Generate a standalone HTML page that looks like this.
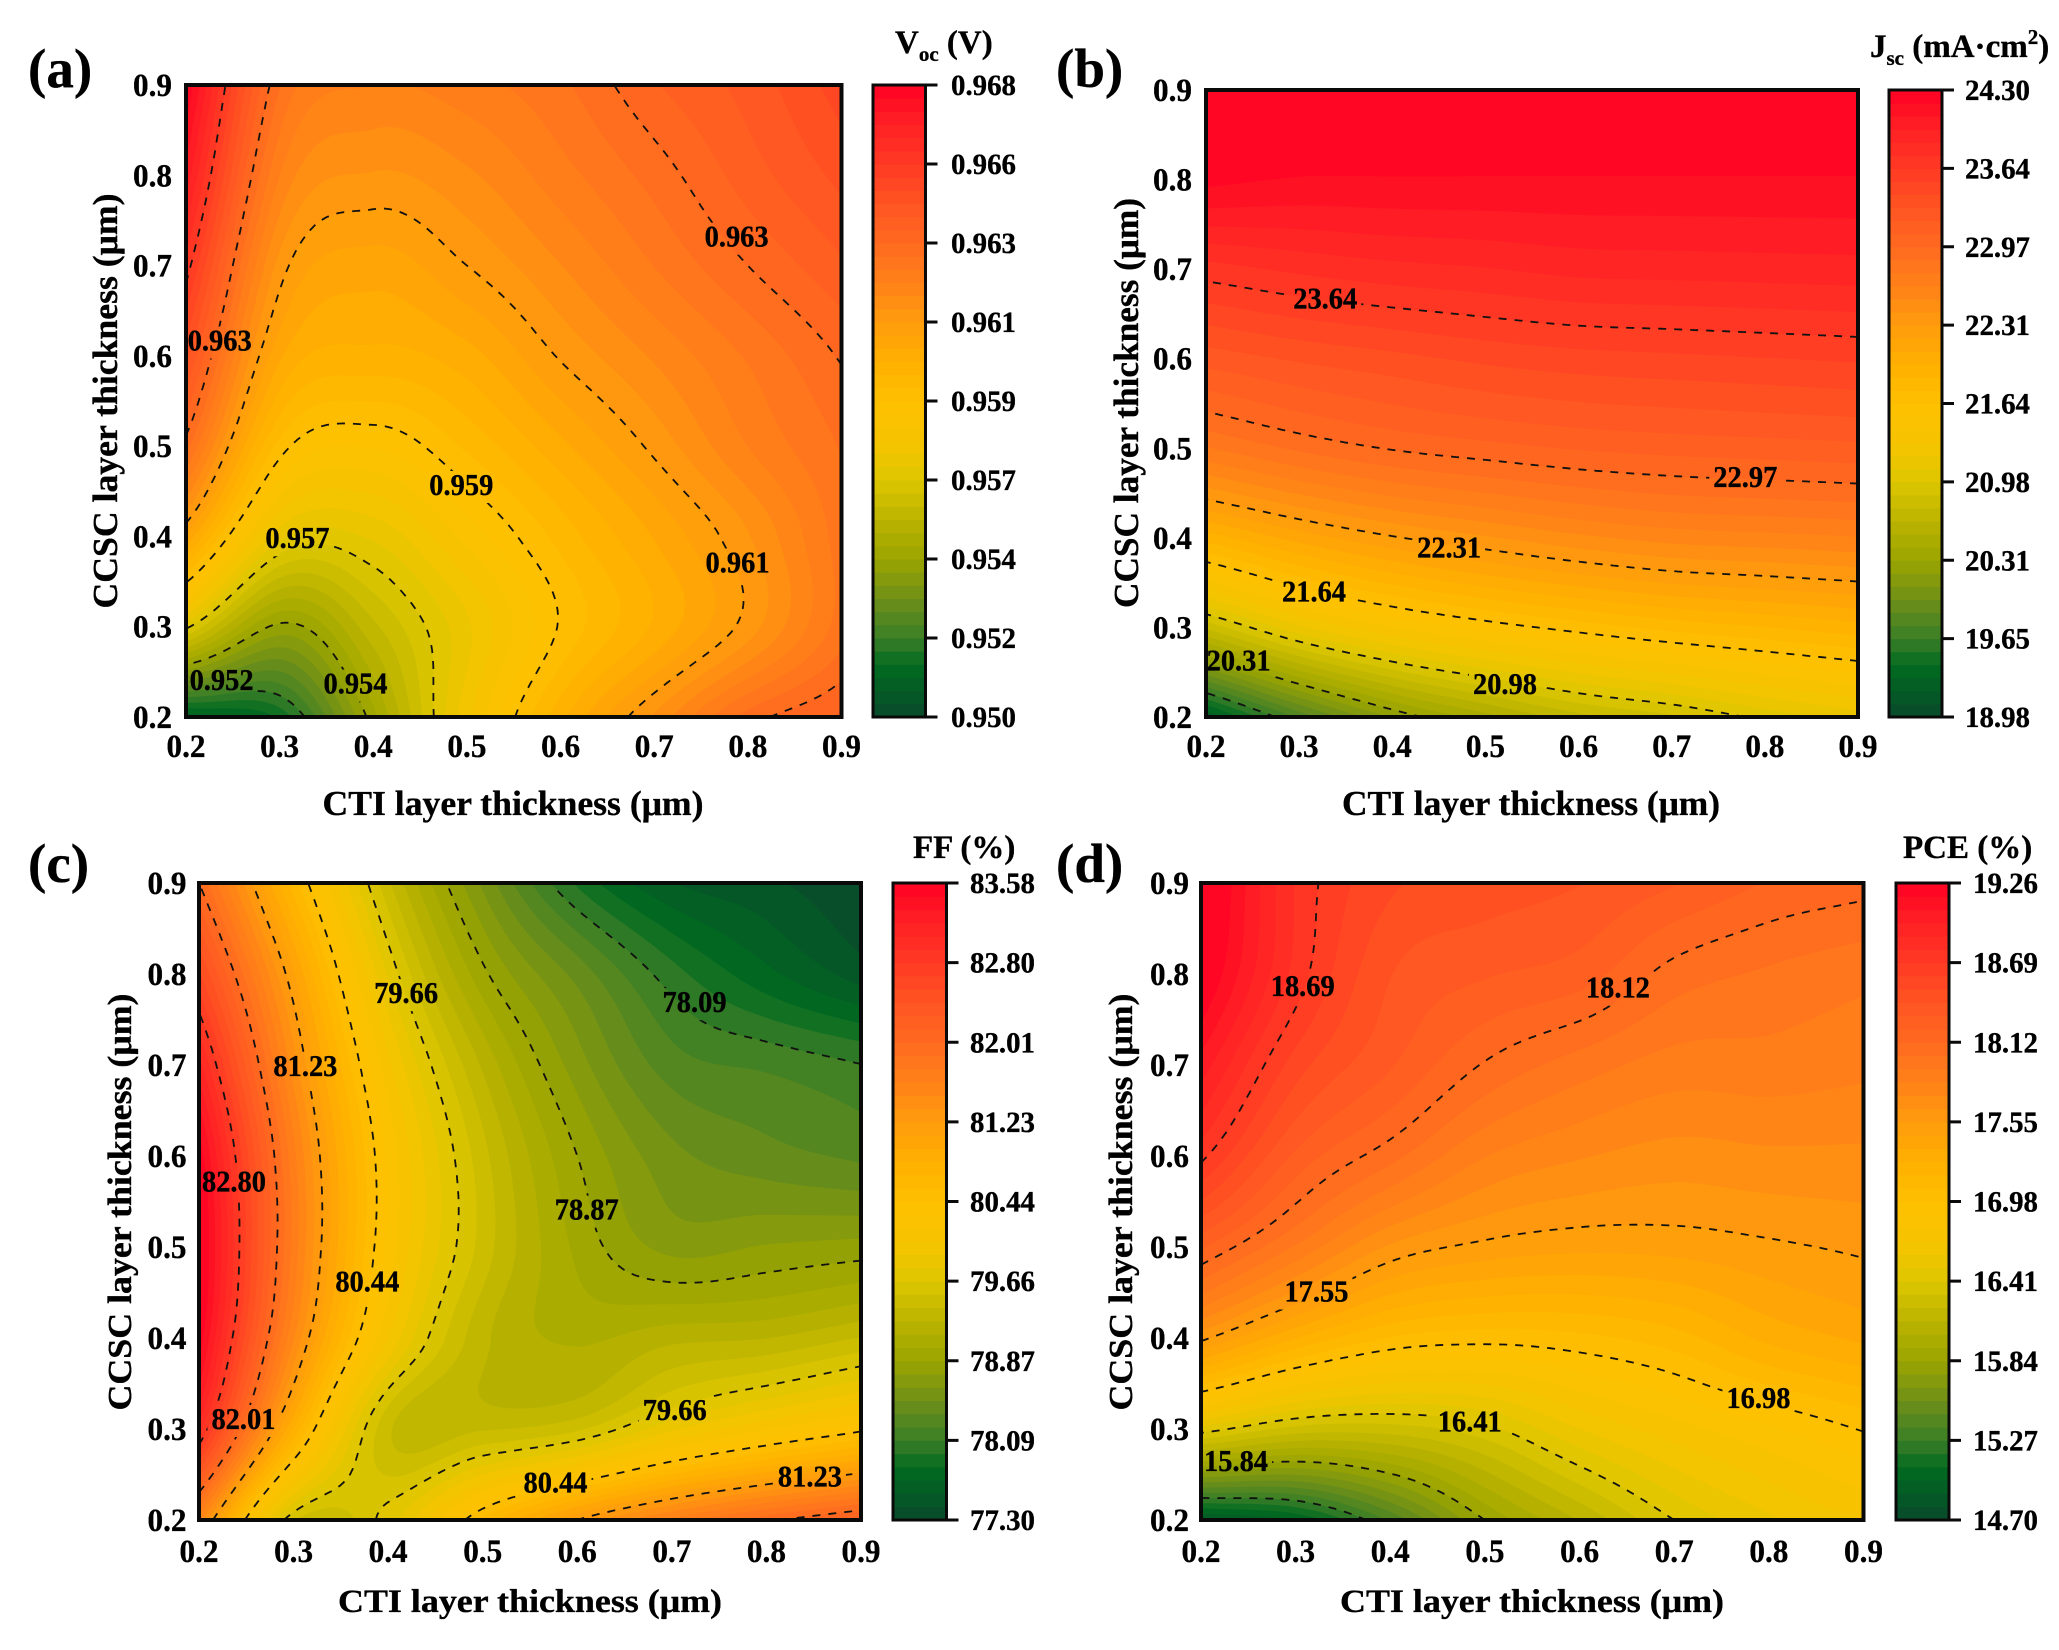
<!DOCTYPE html>
<html lang="en">
<head>
<meta charset="utf-8">
<title>Contour maps of Voc, Jsc, FF and PCE versus CTI and CCSC layer thickness</title>
<style>
html,body{margin:0;padding:0;background:#fff;}
svg{display:block;}
text{font-family:"Liberation Serif","Times New Roman",serif;font-weight:bold;fill:#000;stroke:#000;stroke-width:0.35px;}
</style>
</head>
<body>
<svg id="figure" xmlns="http://www.w3.org/2000/svg" width="2059" height="1650" viewBox="0 0 2059 1650">
  <rect x="0" y="0" width="2059" height="1650" fill="#fff"/>

  <text x="28" y="87" font-size="55">(a)</text>
  <text x="1056" y="87" font-size="55">(b)</text>
  <text x="28" y="882" font-size="55">(c)</text>
  <text x="1056" y="882" font-size="55">(d)</text>

  <text x="513" y="815" font-size="35" text-anchor="middle" textLength="381" lengthAdjust="spacingAndGlyphs">CTI layer thickness (μm)</text>
  <text x="1531" y="815" font-size="35" text-anchor="middle" textLength="378" lengthAdjust="spacingAndGlyphs">CTI layer thickness (μm)</text>
  <text x="530" y="1612" font-size="33" text-anchor="middle" textLength="384" lengthAdjust="spacingAndGlyphs">CTI layer thickness (μm)</text>
  <text x="1532" y="1612" font-size="33" text-anchor="middle" textLength="384" lengthAdjust="spacingAndGlyphs">CTI layer thickness (μm)</text>

  <text transform="translate(117 401) rotate(-90)" font-size="35" text-anchor="middle" textLength="415" lengthAdjust="spacingAndGlyphs">CCSC layer thickness (μm)</text>
  <text transform="translate(1138 403) rotate(-90)" font-size="35" text-anchor="middle" textLength="410" lengthAdjust="spacingAndGlyphs">CCSC layer thickness (μm)</text>
  <text transform="translate(131 1202) rotate(-90)" font-size="34" text-anchor="middle" textLength="417" lengthAdjust="spacingAndGlyphs">CCSC layer thickness (μm)</text>
  <text transform="translate(1132 1202) rotate(-90)" font-size="34" text-anchor="middle" textLength="417" lengthAdjust="spacingAndGlyphs">CCSC layer thickness (μm)</text>

  <text x="895" y="53" font-size="33">V<tspan font-size="21" dy="8">oc</tspan><tspan dy="-8"> (V)</tspan></text>
  <text x="1870" y="57" font-size="33">J<tspan font-size="21" dy="8">sc</tspan><tspan dy="-8"> (mA·cm</tspan><tspan font-size="21" dy="-13">2</tspan><tspan dy="13">)</tspan></text>
  <text x="913" y="858" font-size="33">FF (%)</text>
  <text x="1903" y="858" font-size="33">PCE (%)</text>
</svg>

<script>
// Shared axis values (CTI on x, CCSC on y, micrometres)
const ctiThickness = [0.2, 0.3, 0.4, 0.5, 0.6, 0.7, 0.8, 0.9];
const ccscThickness = [0.2, 0.3, 0.4, 0.5, 0.6, 0.7, 0.8, 0.9];
const thicknessTickLabels = ['0.2', '0.3', '0.4', '0.5', '0.6', '0.7', '0.8', '0.9'];

// Grids: one row per CCSC thickness (0.2 first), one column per CTI thickness
const vocGrid = [
  [0.95090, 0.95158, 0.95473, 0.95776, 0.96001, 0.96170, 0.96328, 0.96395],
  [0.95686, 0.95439, 0.95590, 0.95743, 0.95905, 0.96019, 0.96143, 0.96294],
  [0.96080, 0.95725, 0.95720, 0.95837, 0.95952, 0.96053, 0.96159, 0.96294],
  [0.96328, 0.95923, 0.95866, 0.95945, 0.96040, 0.96136, 0.96238, 0.96316],
  [0.96474, 0.96058, 0.96001, 0.96035, 0.96130, 0.96206, 0.96280, 0.96355],
  [0.96598, 0.96148, 0.96069, 0.96125, 0.96199, 0.96276, 0.96350, 0.96418],
  [0.96710, 0.96238, 0.96159, 0.96193, 0.96260, 0.96328, 0.96406, 0.96474],
  [0.96800, 0.96316, 0.96238, 0.96260, 0.96305, 0.96384, 0.96440, 0.96519]
];
const jscGrid = [
  [19.21, 19.78, 20.21, 20.48, 20.71, 20.84, 21.01, 21.14],
  [20.78, 21.17, 21.41, 21.57, 21.69, 21.79, 21.86, 21.93],
  [21.91, 22.13, 22.29, 22.40, 22.50, 22.57, 22.60, 22.63],
  [22.74, 22.88, 22.98, 23.04, 23.09, 23.12, 23.14, 23.16],
  [23.24, 23.32, 23.38, 23.44, 23.48, 23.50, 23.52, 23.54],
  [23.70, 23.77, 23.82, 23.85, 23.89, 23.90, 23.91, 23.92],
  [24.22, 24.18, 24.18, 24.18, 24.18, 24.18, 24.18, 24.18],
  [24.37, 24.37, 24.37, 24.37, 24.37, 24.37, 24.37, 24.37]
];
const ffGrid = [
  [81.54, 79.54, 79.73, 80.60, 81.23, 81.66, 81.97, 82.21],
  [82.99, 80.83, 79.42, 79.38, 79.50, 79.89, 80.17, 80.40],
  [83.54, 81.50, 80.05, 79.30, 79.11, 79.22, 79.26, 79.40],
  [83.66, 81.70, 80.27, 79.47, 78.97, 78.70, 78.75, 78.79],
  [83.54, 81.66, 80.28, 79.44, 78.87, 78.52, 78.40, 78.32],
  [83.11, 81.42, 80.09, 79.24, 78.67, 78.28, 78.19, 78.09],
  [82.56, 81.11, 79.77, 78.91, 78.43, 78.01, 77.73, 77.50],
  [82.01, 80.64, 79.42, 78.58, 77.93, 77.57, 77.46, 77.30]
];
const pceGrid = [
  [14.87, 14.99, 15.38, 15.84, 16.13, 16.41, 16.58, 16.70],
  [16.47, 16.28, 16.27, 16.38, 16.60, 16.75, 16.87, 16.99],
  [17.58, 17.27, 17.07, 17.02, 17.05, 17.13, 17.29, 17.38],
  [18.23, 17.92, 17.63, 17.52, 17.48, 17.49, 17.53, 17.57],
  [18.72, 18.29, 18.06, 17.84, 17.75, 17.70, 17.72, 17.72],
  [19.03, 18.55, 18.32, 18.11, 17.98, 17.89, 17.89, 17.86],
  [19.29, 18.75, 18.41, 18.32, 18.26, 18.08, 18.01, 17.96],
  [19.37, 18.78, 18.52, 18.46, 18.41, 18.32, 18.21, 18.16]
];

// Colour-bar tick labels, bottom to top (also the contour levels)
const vocTicks = ['0.950', '0.952', '0.954', '0.957', '0.959', '0.961', '0.963', '0.966', '0.968'];
const jscTicks = ['18.98', '19.65', '20.31', '20.98', '21.64', '22.31', '22.97', '23.64', '24.30'];
const ffTicks = ['77.30', '78.09', '78.87', '79.66', '80.44', '81.23', '82.01', '82.80', '83.58'];
const pceTicks = ['14.70', '15.27', '15.84', '16.41', '16.98', '17.55', '18.12', '18.69', '19.26'];

// Contour labels: printed text plus where they sit in data coordinates
const vocLabels = ['0.963', '0.963', '0.959', '0.957', '0.961', '0.952', '0.954'];
const vocLabelCti = [0.788, 0.236, 0.494, 0.319, 0.789, 0.238, 0.381];
const vocLabelCcsc = [0.732, 0.617, 0.457, 0.398, 0.371, 0.241, 0.237];
const jscLabels = ['23.64', '22.97', '22.31', '21.64', '20.31', '20.98'];
const jscLabelCti = [0.328, 0.779, 0.461, 0.316, 0.235, 0.521];
const jscLabelCcsc = [0.667, 0.468, 0.389, 0.340, 0.263, 0.237];
const ffLabels = ['79.66', '78.09', '81.23', '82.80', '78.87', '80.44', '82.01', '79.66', '80.44', '81.23'];
const ffLabelCti = [0.419, 0.724, 0.3125, 0.237, 0.610, 0.378, 0.247, 0.703, 0.577, 0.846];
const ffLabelCcsc = [0.779, 0.769, 0.699, 0.572, 0.541, 0.462, 0.311, 0.321, 0.241, 0.248];
const pceLabels = ['18.69', '18.12', '17.55', '16.98', '16.41', '15.84'];
const pceLabelCti = [0.3075, 0.6405, 0.322, 0.789, 0.484, 0.237];
const pceLabelCcsc = [0.787, 0.785, 0.451, 0.334, 0.308, 0.265];

// Colormap stops: position along the bar and its colour
const colorStopPositions = [0, 0.08, 0.125, 0.1875, 0.25, 0.3125, 0.375, 0.43, 0.5, 0.5625, 0.625, 0.6875, 0.75, 0.8125, 0.875, 0.94, 1];
const colorStopValues = ['#0a4a2c', '#006a20', '#3a7e28', '#6f9018', '#9aa400', '#bcb400', '#dcc600', '#f4c400', '#fec000', '#ffb000', '#ff9c0c', '#ff8218', '#ff6a20', '#ff5422', '#ff3a24', '#ff2024', '#ff0025'];

const SVG_NS = 'http://www.w3.org/2000/svg';
const BAND_COUNT = 48;
const SAMPLES = 112;
const figure = document.getElementById('figure');

function make(tag, parent, attrs) {
  const el = document.createElementNS(SVG_NS, tag);
  for (const k in attrs) el.setAttribute(k, attrs[k]);
  parent.appendChild(el);
  return el;
}

function hexToRgb(h) {
  return [parseInt(h.substr(1, 2), 16), parseInt(h.substr(3, 2), 16), parseInt(h.substr(5, 2), 16)];
}

function colorAt(t) {
  t = Math.max(0, Math.min(1, t));
  let i = 0;
  while (i < colorStopPositions.length - 2 && t > colorStopPositions[i + 1]) i++;
  const f = (t - colorStopPositions[i]) / (colorStopPositions[i + 1] - colorStopPositions[i]);
  const a = hexToRgb(colorStopValues[i]);
  const b = hexToRgb(colorStopValues[i + 1]);
  return 'rgb(' + Math.round(a[0] + (b[0] - a[0]) * f) + ',' + Math.round(a[1] + (b[1] - a[1]) * f) + ',' + Math.round(a[2] + (b[2] - a[2]) * f) + ')';
}

function catmull(p0, p1, p2, p3, t) {
  return 0.5 * (2 * p1 + (p2 - p0) * t + (2 * p0 - 5 * p1 + 4 * p2 - p3) * t * t + (3 * p1 - p0 - 3 * p2 + p3) * t * t * t);
}

function gridValue(grid, r, c) {
  const rows = grid.length;
  const cols = grid[0].length;
  if (r < 0) return 2 * gridValue(grid, 0, c) - gridValue(grid, 1, c);
  if (r >= rows) return 2 * gridValue(grid, rows - 1, c) - gridValue(grid, rows - 2, c);
  if (c < 0) return 2 * grid[r][0] - grid[r][1];
  if (c >= cols) return 2 * grid[r][cols - 1] - grid[r][cols - 2];
  return grid[r][c];
}

function sampleSurface(grid) {
  const cols = ctiThickness.length;
  const rows = ccscThickness.length;
  const out = [];
  for (let j = 0; j <= SAMPLES; j++) {
    const v = j / SAMPLES * (rows - 1);
    const r = Math.min(Math.floor(v), rows - 2);
    const tv = v - r;
    const line = [];
    for (let i = 0; i <= SAMPLES; i++) {
      const u = i / SAMPLES * (cols - 1);
      const c = Math.min(Math.floor(u), cols - 2);
      const tu = u - c;
      const vals = [];
      for (let m = -1; m <= 2; m++) {
        vals.push(catmull(gridValue(grid, r + m, c - 1), gridValue(grid, r + m, c), gridValue(grid, r + m, c + 1), gridValue(grid, r + m, c + 2), tu));
      }
      line.push(catmull(vals[0], vals[1], vals[2], vals[3], tv));
    }
    out.push(line);
  }
  return out;
}

function bandPath(F, level, px, py) {
  const parts = [];
  for (let j = 0; j < SAMPLES; j++) {
    let run = -1;
    const y0 = py(j).toFixed(1);
    const y1 = py(j + 1).toFixed(1);
    for (let i = 0; i <= SAMPLES; i++) {
      let full = false;
      if (i < SAMPLES) {
        full = F[j][i] >= level && F[j][i + 1] >= level && F[j + 1][i + 1] >= level && F[j + 1][i] >= level;
      }
      if (full) {
        if (run < 0) run = i;
        continue;
      }
      if (run >= 0) {
        parts.push('M' + px(run).toFixed(1) + ' ' + y0 + 'H' + px(i).toFixed(1) + 'V' + y1 + 'H' + px(run).toFixed(1) + 'Z');
        run = -1;
      }
      if (i === SAMPLES) break;
      const cx = [i, i + 1, i + 1, i];
      const cy = [j, j, j + 1, j + 1];
      const vv = [F[j][i], F[j][i + 1], F[j + 1][i + 1], F[j + 1][i]];
      const pts = [];
      for (let k = 0; k < 4; k++) {
        const n = (k + 1) % 4;
        if (vv[k] >= level) pts.push(px(cx[k]).toFixed(1) + ' ' + py(cy[k]).toFixed(1));
        if ((vv[k] >= level) !== (vv[n] >= level)) {
          const f = (level - vv[k]) / (vv[n] - vv[k]);
          pts.push(px(cx[k] + (cx[n] - cx[k]) * f).toFixed(1) + ' ' + py(cy[k] + (cy[n] - cy[k]) * f).toFixed(1));
        }
      }
      if (pts.length > 2) parts.push('M' + pts.join('L') + 'Z');
    }
  }
  return parts.join('');
}

function contourPath(F, level, px, py) {
  const nodes = new Map();
  function node(key, x, y) {
    if (!nodes.has(key)) nodes.set(key, { x: x, y: y, links: [] });
    return key;
  }
  function crossH(j, i) {
    const f = (level - F[j][i]) / (F[j][i + 1] - F[j][i]);
    return node('h' + j + '_' + i, px(i + f), py(j));
  }
  function crossV(j, i) {
    const f = (level - F[j][i]) / (F[j + 1][i] - F[j][i]);
    return node('v' + j + '_' + i, px(i), py(j + f));
  }
  function link(a, b) {
    nodes.get(a).links.push(b);
    nodes.get(b).links.push(a);
  }
  for (let j = 0; j < SAMPLES; j++) {
    for (let i = 0; i < SAMPLES; i++) {
      const a = F[j][i] >= level, b = F[j][i + 1] >= level, c = F[j + 1][i + 1] >= level, d = F[j + 1][i] >= level;
      const hits = [];
      if (a !== b) hits.push(crossH(j, i));
      if (b !== c) hits.push(crossV(j, i + 1));
      if (d !== c) hits.push(crossH(j + 1, i));
      if (a !== d) hits.push(crossV(j, i));
      if (hits.length === 2) link(hits[0], hits[1]);
      if (hits.length === 4) {
        link(hits[0], hits[3]);
        link(hits[1], hits[2]);
      }
    }
  }
  const seen = new Set();
  let path = '';
  function walk(start) {
    let cur = start;
    let prev = null;
    let d = '';
    let first = true;
    while (cur && !seen.has(cur)) {
      seen.add(cur);
      const n = nodes.get(cur);
      d += (first ? 'M' : 'L') + n.x.toFixed(1) + ' ' + n.y.toFixed(1);
      first = false;
      let next = null;
      for (const l of n.links) {
        if (l !== prev && !seen.has(l)) { next = l; break; }
      }
      prev = cur;
      cur = next;
    }
    return d;
  }
  nodes.forEach(function (n, key) {
    if (n.links.length === 1 && !seen.has(key)) path += walk(key);
  });
  nodes.forEach(function (n, key) {
    if (!seen.has(key)) path += walk(key) + 'Z';
  });
  return path;
}

function drawPanel(cfg) {
  const min = parseFloat(cfg.ticks[0]);
  const max = parseFloat(cfg.ticks[cfg.ticks.length - 1]);
  const xMin = ctiThickness[0];
  const xMax = ctiThickness[ctiThickness.length - 1];
  const yMin = ccscThickness[0];
  const yMax = ccscThickness[ccscThickness.length - 1];
  const xAxis = function (v) { return cfg.left + (v - xMin) / (xMax - xMin) * (cfg.right - cfg.left); };
  const yAxis = function (v) { return cfg.bottom - (v - yMin) / (yMax - yMin) * (cfg.bottom - cfg.top); };
  const px = function (i) { return cfg.left + (cfg.right - cfg.left) * i / SAMPLES; };
  const py = function (j) { return cfg.bottom - (cfg.bottom - cfg.top) * j / SAMPLES; };
  const F = sampleSurface(cfg.grid);

  const group = make('g', figure, {});
  
  

  // Filled contour bands
  for (let b = 0; b < BAND_COUNT; b++) {
    const level = b === 0 ? -Infinity : min + (max - min) * b / BAND_COUNT;
    const d = bandPath(F, level, px, py);
    if (!d) continue;
    const band = make('path', group, { d: d, fill: colorAt((b + 0.5) / BAND_COUNT) });
    
    
  }

  // Label gaps in the dashed lines
  const mask = make('mask', group, { id: cfg.id + '-label-gaps', maskUnits: 'userSpaceOnUse', x: cfg.left - 5, y: cfg.top - 5, width: cfg.right - cfg.left + 10, height: cfg.bottom - cfg.top + 10 });
  make('rect', mask, { x: cfg.left - 5, y: cfg.top - 5, width: cfg.right - cfg.left + 10, height: cfg.bottom - cfg.top + 10, fill: '#fff' });
  cfg.labels.forEach(function (t, i) {
    make('rect', mask, { x: xAxis(cfg.labelX[i]) - 36, y: yAxis(cfg.labelY[i]) - 14, width: 72, height: 32, fill: '#000' });
  });

  // Dashed contour lines at the inner colour-bar levels
  const lines = make('g', group, { mask: 'url(#' + cfg.id + '-label-gaps)' });
  for (let k = 1; k < cfg.ticks.length - 1; k++) {
    const level = min + (max - min) * k / (cfg.ticks.length - 1);
    const line = make('path', lines, { d: contourPath(F, level, px, py), fill: 'none', stroke: '#111', 'stroke-width': 1.8, 'stroke-dasharray': '8 8' });
    
    
  }

  // Contour labels
  cfg.labels.forEach(function (t, i) {
    const label = make('text', group, { x: xAxis(cfg.labelX[i]), y: yAxis(cfg.labelY[i]) + 10, 'font-size': 31, 'text-anchor': 'middle', textLength: 64, lengthAdjust: 'spacingAndGlyphs' });
    label.textContent = t;
    
    
  });

  // Plot frame
  const frame = make('rect', group, { x: cfg.left, y: cfg.top, width: cfg.right - cfg.left, height: cfg.bottom - cfg.top, fill: 'none', stroke: '#0a0a0a', 'stroke-width': 4 });
  
  

  // Axis tick labels
  thicknessTickLabels.forEach(function (t) {
    const xl = make('text', group, { x: xAxis(parseFloat(t)), y: cfg.xTickY + 11, 'font-size': 33, 'text-anchor': 'middle', textLength: 39, lengthAdjust: 'spacingAndGlyphs' });
    xl.textContent = t;
    
    
    const yl = make('text', group, { x: cfg.yTickRight, y: yAxis(parseFloat(t)) + 11, 'font-size': 33, 'text-anchor': 'end', textLength: 39, lengthAdjust: 'spacingAndGlyphs' });
    yl.textContent = t;
    
    
  });

  // Colour bar
  const bar = make('g', figure, {});
  
  
  const barAxis = function (v) { return cfg.bottom - (v - min) / (max - min) * (cfg.bottom - cfg.barTop); };
  for (let b = 0; b < BAND_COUNT; b++) {
    const lo = min + (max - min) * b / BAND_COUNT;
    const hi = min + (max - min) * (b + 1) / BAND_COUNT;
    const r = make('rect', bar, { x: cfg.barLeft, y: barAxis(hi), width: cfg.barRight - cfg.barLeft, height: barAxis(lo) - barAxis(hi) + 0.5, fill: colorAt((b + 0.5) / BAND_COUNT) });
    
    
  }
  const barFrame = make('rect', bar, { x: cfg.barLeft, y: cfg.barTop, width: cfg.barRight - cfg.barLeft, height: cfg.bottom - cfg.barTop, fill: 'none', stroke: '#0a0a0a', 'stroke-width': 3 });
  
  
  cfg.ticks.forEach(function (t, k) {
    const value = min + (max - min) * k / (cfg.ticks.length - 1);
    const y = barAxis(value);
    const tick = make('line', bar, { x1: cfg.barRight, x2: cfg.barRight + 12, y1: y, y2: y, stroke: '#0a0a0a', 'stroke-width': 3 });
    
    
    const lab = make('text', bar, { x: cfg.barLabelX, y: y + 10, 'font-size': 30, textLength: 65, lengthAdjust: 'spacingAndGlyphs' });
    lab.textContent = t;
    
    
  });
}

drawPanel({ id: 'voc', grid: vocGrid, ticks: vocTicks, labels: vocLabels, labelX: vocLabelCti, labelY: vocLabelCcsc,
  left: 186, right: 841.5, top: 85, bottom: 717, xTickY: 746, yTickRight: 172,
  barLeft: 873, barRight: 925.5, barTop: 85, barLabelX: 951 });
drawPanel({ id: 'jsc', grid: jscGrid, ticks: jscTicks, labels: jscLabels, labelX: jscLabelCti, labelY: jscLabelCcsc,
  left: 1206, right: 1858, top: 90, bottom: 717, xTickY: 746, yTickRight: 1192,
  barLeft: 1889, barRight: 1942, barTop: 90, barLabelX: 1965 });
drawPanel({ id: 'ff', grid: ffGrid, ticks: ffTicks, labels: ffLabels, labelX: ffLabelCti, labelY: ffLabelCcsc,
  left: 199, right: 861, top: 883, bottom: 1520, xTickY: 1551, yTickRight: 186.5,
  barLeft: 893, barRight: 946.5, barTop: 883, barLabelX: 970 });
drawPanel({ id: 'pce', grid: pceGrid, ticks: pceTicks, labels: pceLabels, labelX: pceLabelCti, labelY: pceLabelCcsc,
  left: 1201, right: 1863.5, top: 883, bottom: 1520, xTickY: 1551, yTickRight: 1189,
  barLeft: 1896, barRight: 1949, barTop: 883, barLabelX: 1973 });
</script>
</body>
</html>
